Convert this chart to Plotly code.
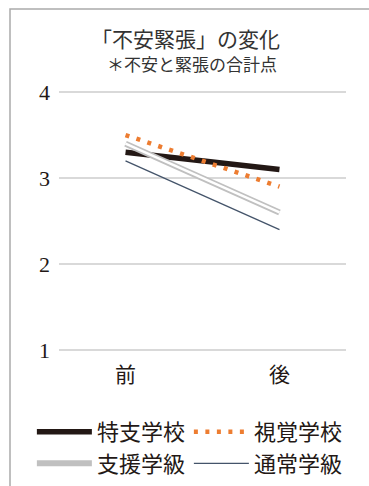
import plotly.graph_objects as go

categories = ["前", "後"]
x_pos = [0, 1]
tokushi = [3.3, 3.1]     # 特支学校
shikaku = [3.5, 2.9]     # 視覚学校
shien = [3.4, 2.6]       # 支援学級
tsujo = [3.2, 2.4]       # 通常学級
y_ticks = [1, 2, 3, 4]

TEXT = "#231815"
SERIF = "Liberation Serif, Noto Sans CJK JP"
CJK = "Noto Sans CJK JP"

fig = go.Figure()
fig.add_trace(go.Scatter(x=x_pos, y=tokushi, mode="lines", name="特支学校",
                         line=dict(color="#231815", width=5.5)))
fig.add_trace(go.Scatter(x=x_pos, y=shikaku, mode="lines", name="視覚学校",
                         line=dict(color="#ED7D31", width=4.5, dash="4px,7.5px")))
fig.add_trace(go.Scatter(x=x_pos, y=shien, mode="lines", name="支援学級",
                         line=dict(color="#C0C0C0", width=6)))
fig.add_trace(go.Scatter(x=x_pos, y=shien, mode="lines", showlegend=False,
                         hoverinfo="skip", line=dict(color="#FFFFFF", width=2.5)))
fig.add_trace(go.Scatter(x=x_pos, y=tsujo, mode="lines", name="通常学級",
                         line=dict(color="#44546A", width=1.3)))

fig.update_layout(
    width=369, height=486,
    margin=dict(l=59, r=23, t=80, b=126, autoexpand=False),
    paper_bgcolor="white", plot_bgcolor="white",
    showlegend=True,
    legend=dict(orientation="h", x=-0.0945, y=-0.182, xanchor="left", yanchor="top",
                entrywidth=87, entrywidthmode="pixels", itemwidth=55,
                font=dict(family=CJK, size=22, color=TEXT),
                bgcolor="rgba(0,0,0,0)"),
    xaxis=dict(range=[-0.432, 1.432], tickvals=x_pos, ticktext=categories,
               showgrid=False, zeroline=False, showline=False, ticks="",
               tickfont=dict(family=SERIF, size=21, color=TEXT), fixedrange=True),
    yaxis=dict(range=[0.884, 4.14], tickvals=y_ticks, showgrid=True,
               gridcolor="#D9D9D9", gridwidth=1.5, zeroline=False, showline=False,
               ticks="", ticklabelstandoff=8,
               tickfont=dict(family=SERIF, size=22, color=TEXT), fixedrange=True),
    annotations=[
        dict(text="「不安緊張」の変化", xref="paper", yref="paper",
             x=(185 - 59) / 287, y=(360 - 38) / 280, xanchor="center", yanchor="middle",
             showarrow=False, font=dict(family=CJK, size=21, color="#333333")),
        dict(text="＊不安と緊張の合計点", xref="paper", yref="paper",
             x=(192 - 59) / 287, y=(360 - 64) / 280, xanchor="center", yanchor="middle",
             showarrow=False, font=dict(family=CJK, size=17, color="#333333")),
    ],
    shapes=[
        dict(type="rect", xref="paper", yref="paper",
             x0=(10 - 59) / 287, y0=-2, x1=3, y1=(360 - 9) / 280,
             line=dict(color="#AAAAAA", width=1.5), fillcolor="rgba(0,0,0,0)",
             layer="below"),
    ],
)

fig.write_html("out.html")
